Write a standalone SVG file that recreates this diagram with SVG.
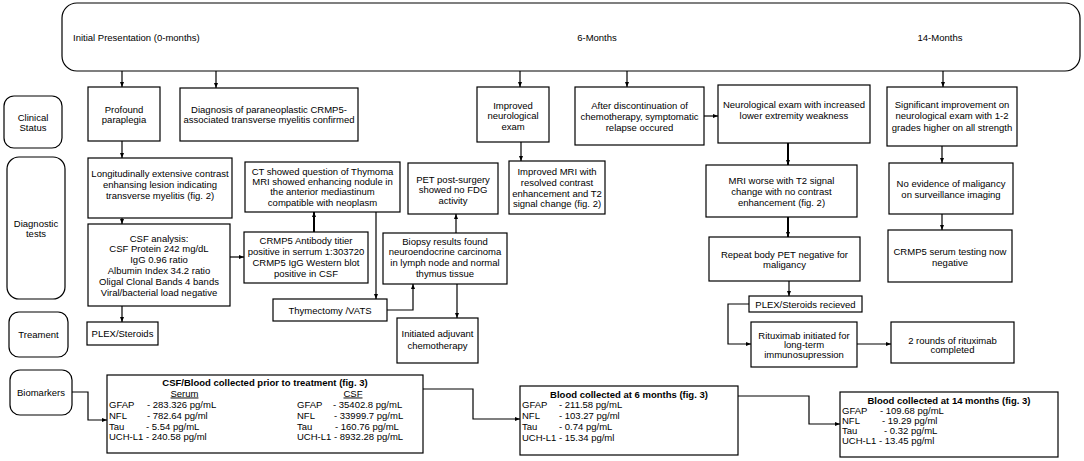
<svg xmlns="http://www.w3.org/2000/svg" width="1084" height="461" viewBox="0 0 1084 461">
<style>
.b{fill:#fff;stroke:#000;stroke-width:1.2}
.t{font-family:"Liberation Sans",Arial,sans-serif;font-size:9.5px;fill:#000;text-anchor:middle}
.l{text-anchor:start}
.h{font-weight:bold}
.u{text-decoration:underline}
.c path{fill:none;stroke:#000;stroke-width:1.2;marker-end:url(#ah)}
.c path.k{stroke-width:2}
</style>
<defs>
<marker id="ah" viewBox="0 0 10 10" refX="10" refY="5" markerWidth="5" markerHeight="5" orient="auto" markerUnits="userSpaceOnUse"><path d="M0,1 L10,5 L0,9 z" fill="#000"/></marker>
</defs>
<rect width="1084" height="461" fill="#fff"/>

<g id="timeline">
<rect class="b" x="62" y="3" width="1018" height="68" rx="15"/>
<text class="t l" x="73" y="40.5">Initial Presentation (0-months)</text>
<text class="t" x="597" y="40.5">6-Months</text>
<text class="t" x="940" y="40.5">14-Months</text>
</g>

<g id="lbl-clinical"><rect class="b" x="4" y="96" width="58" height="52" rx="10"/>
<text class="t" x="33" y="120.5">Clinical</text><text class="t" x="33" y="130.5">Status</text></g>
<g id="lbl-diagnostic"><rect class="b" x="7" y="157" width="58" height="142" rx="12"/>
<text class="t" x="36" y="226.5">Diagnostic</text><text class="t" x="36" y="236.5">tests</text></g>
<g id="lbl-treatment"><rect class="b" x="9" y="312" width="59" height="45" rx="10"/>
<text class="t" x="38.5" y="337.5">Treament</text></g>
<g id="lbl-biomarkers"><rect class="b" x="10" y="370" width="62" height="45" rx="10"/>
<text class="t" x="41" y="395.5">Biomarkers</text></g>

<g id="paraplegia"><rect class="b" x="88" y="87" width="72" height="54"/>
<text class="t" x="124" y="112.5">Profound</text><text class="t" x="124" y="122.5">paraplegia</text></g>
<g id="diagnosis"><rect class="b" x="180" y="88" width="178" height="53"/>
<text class="t" x="269" y="112.5">Diagnosis of paraneoplastic CRMP5-</text><text class="t" x="269" y="122.5">associated transverse myelitis confirmed</text></g>
<g id="improved-exam"><rect class="b" x="477" y="87" width="72" height="55"/>
<text class="t" x="513" y="108.5">Improved</text><text class="t" x="513" y="119">neurological</text><text class="t" x="513" y="129.5">exam</text></g>
<g id="relapse"><rect class="b" x="575" y="87" width="129" height="58"/>
<text class="t" x="639.5" y="108.5">After discontinuation of</text><text class="t" x="639.5" y="119.5">chemotherapy, symptomatic</text><text class="t" x="639.5" y="130.5">relapse occured</text></g>
<g id="weakness"><rect class="b" x="718" y="85" width="152" height="58"/>
<text class="t" x="794" y="107.5">Neurological exam with increased</text><text class="t" x="794" y="118.5">lower extremity weakness</text></g>
<g id="significant"><rect class="b" x="887" y="87" width="130" height="59"/>
<text class="t" x="952" y="107.5">Significant improvement on</text><text class="t" x="952" y="119">neurological exam with 1-2</text><text class="t" x="952" y="130.5">grades higher on all strength</text></g>

<g id="lesion"><rect class="b" x="88" y="158" width="144" height="60"/>
<text class="t" x="160" y="176.5">Longitudinally extensive contrast</text><text class="t" x="160" y="187.5">enhansing lesion indicating</text><text class="t" x="160" y="198.5">transverse myelitis (fig. 2)</text></g>
<g id="csf"><rect class="b" x="88" y="224" width="142" height="82"/>
<text class="t" x="159" y="241.5">CSF analysis:</text><text class="t" x="159" y="252.3">CSF Protein 242 mg/dL</text><text class="t" x="159" y="263.1">IgG 0.96 ratio</text><text class="t" x="159" y="273.9">Albumin Index 34.2 ratio</text><text class="t" x="159" y="284.7">Oligal Clonal Bands 4 bands</text><text class="t" x="159" y="295.5">Viral/bacterial load negative</text></g>
<g id="crmp5-ab"><rect class="b" x="244" y="232" width="124" height="51"/>
<text class="t" x="306" y="243.5">CRMP5 Antibody titier</text><text class="t" x="306" y="254.5">positive in serrum 1:303720</text><text class="t" x="306" y="265.5">CRMP5 IgG Western blot</text><text class="t" x="306" y="276.5">positive in CSF</text></g>
<g id="ct"><rect class="b" x="245" y="162" width="155" height="50"/>
<text class="t" x="322.5" y="174.5">CT showed question of Thymoma</text><text class="t" x="322.5" y="184.8">MRI showed enhancing nodule in</text><text class="t" x="322.5" y="195.2">the anterior mediastinum</text><text class="t" x="322.5" y="205.5">compatible with neoplasm</text></g>
<g id="thymectomy"><rect class="b" x="273" y="299" width="114" height="22"/>
<text class="t" x="330" y="313.5">Thymectomy /VATS</text></g>
<g id="biopsy"><rect class="b" x="383" y="233" width="124" height="51"/>
<text class="t" x="445" y="244.5">Biopsy results found</text><text class="t" x="445" y="255.2">neuroendocrine carcinoma</text><text class="t" x="445" y="265.9">in lymph node and normal</text><text class="t" x="445" y="276.5">thymus tissue</text></g>
<g id="pet"><rect class="b" x="408" y="163" width="90" height="51"/>
<text class="t" x="453" y="182.5">PET post-surgery</text><text class="t" x="453" y="192.8">showed no FDG</text><text class="t" x="453" y="203.5">activity</text></g>
<g id="chemo"><rect class="b" x="397" y="318" width="81" height="45"/>
<text class="t" x="437.5" y="336.5">Initiated adjuvant</text><text class="t" x="437.5" y="348.5">chemotherapy</text></g>
<g id="improved-mri"><rect class="b" x="509" y="161" width="96" height="53"/>
<text class="t" x="557" y="174.5">Improved MRI with</text><text class="t" x="557" y="185.5">resolved contrast</text><text class="t" x="557" y="196.5">enhancement and T2</text><text class="t" x="557" y="206.5">signal change (fig. 2)</text></g>
<g id="mri-worse"><rect class="b" x="706" y="165" width="151" height="52"/>
<text class="t" x="781.5" y="183.5">MRI worse with T2 signal</text><text class="t" x="781.5" y="194.5">change with no contrast</text><text class="t" x="781.5" y="205.5">enhancement (fig. 2)</text></g>
<g id="repeat-pet"><rect class="b" x="709" y="237" width="151" height="44"/>
<text class="t" x="784.5" y="257.5">Repeat body PET negative for</text><text class="t" x="784.5" y="267.5">maligancy</text></g>
<g id="plex-received"><rect class="b" x="749" y="296" width="113" height="16"/>
<text class="t" x="805.5" y="307.5">PLEX/Steroids recieved</text></g>
<g id="rituximab"><rect class="b" x="751" y="322" width="106" height="45"/>
<text class="t" x="804" y="338.5">Rituximab initiated for</text><text class="t" x="804" y="348.2">long-term</text><text class="t" x="804" y="357.9">immunosupression</text></g>
<g id="rounds"><rect class="b" x="891" y="322" width="123" height="41"/>
<text class="t" x="952.5" y="343.5">2 rounds of rituximab</text><text class="t" x="952.5" y="353">completed</text></g>
<g id="no-evidence"><rect class="b" x="889" y="163" width="124" height="51"/>
<text class="t" x="951" y="186.5">No evidence of maligancy</text><text class="t" x="951" y="197.5">on surveillance imaging</text></g>
<g id="crmp5-neg"><rect class="b" x="888" y="230" width="124" height="52"/>
<text class="t" x="950" y="254.5">CRMP5 serum testing now</text><text class="t" x="950" y="265.5">negative</text></g>
<g id="plex"><rect class="b" x="87" y="322" width="71" height="23"/>
<text class="t" x="122.5" y="337">PLEX/Steroids</text></g>

<g id="bio-0">
<rect class="b" x="107" y="375" width="316" height="78"/>
<text class="t h" x="265" y="385.5">CSF/Blood collected prior to treatment (fig. 3)</text>
<text class="t u" x="184.5" y="396.5">Serum</text>
<text class="t u" x="353" y="396.5">CSF</text>
<text class="t l" x="109" y="408.3">GFAP</text><text class="t l" x="147" y="408.3">- 283.326 pg/mL</text>
<text class="t l" x="109" y="418.9">NFL</text><text class="t l" x="147" y="418.9">- 782.64 pg/ml</text>
<text class="t l" x="109" y="429.5">Tau</text><text class="t l" x="146" y="429.5">- 5.54 pg/mL</text>
<text class="t l" x="109" y="440.1">UCH-L1 - 240.58 pg/ml</text>
<text class="t l" x="297" y="408.3">GFAP</text><text class="t l" x="333" y="408.3">-  35402.8 pg/mL</text>
<text class="t l" x="297" y="418.9">NFL</text><text class="t l" x="334" y="418.9">- 33999.7 pg/mL</text>
<text class="t l" x="297" y="429.5">Tau</text><text class="t l" x="335" y="429.5">- 160.76 pg/mL</text>
<text class="t l" x="297" y="440.1">UCH-L1 - 8932.28 pg/mL</text>
</g>
<g id="bio-6">
<rect class="b" x="520" y="386" width="218" height="69"/>
<text class="t h" x="629" y="397.5">Blood collected at 6 months (fig. 3)</text>
<text class="t l" x="522" y="407.5">GFAP</text><text class="t l" x="559" y="407.5">- 211.58 pg/mL</text>
<text class="t l" x="522" y="418.5">NFL</text><text class="t l" x="559" y="418.5">- 103.27 pg/ml</text>
<text class="t l" x="522" y="429.5">Tau</text><text class="t l" x="559" y="429.5">- 0.74 pg/mL</text>
<text class="t l" x="522" y="440.5">UCH-L1 - 15.34 pg/ml</text>
</g>
<g id="bio-14">
<rect class="b" x="840" y="392" width="218" height="65"/>
<text class="t h" x="949" y="403.5">Blood collected at 14 months (fig. 3)</text>
<text class="t l" x="842" y="413.5">GFAP</text><text class="t l" x="880" y="413.5">- 109.68 pg/mL</text>
<text class="t l" x="842" y="423.8">NFL</text><text class="t l" x="882" y="423.8">- 19.29 pg/ml</text>
<text class="t l" x="842" y="434.1">Tau</text><text class="t l" x="884" y="434.1">- 0.32 pg/mL</text>
<text class="t l" x="842" y="444.4">UCH-L1 - 13.45 pg/ml</text>
</g>

<g id="connectors" class="c">
<path d="M122,71 V87"/>
<path d="M216,71 V88"/>
<path d="M520,71 V87"/>
<path d="M627,71 V87"/>
<path d="M943,71 V87"/>
<path d="M704,116 H718"/>
<path d="M122,141 V158"/>
<path d="M122,218 V224"/>
<path d="M122,306 V322"/>
<path d="M230,257 H244"/>
<path class="k" d="M314,232 V212"/>
<path d="M376,212 V299"/>
<path d="M387,310 H413 V284"/>
<path d="M456,233 V214"/>
<path d="M457,284 V318"/>
<path d="M521,142 V161"/>
<path class="k" d="M788,143 V165"/>
<path class="k" d="M788,217 V237"/>
<path d="M789,281 V296"/>
<path d="M749,304 H728 V344 H751"/>
<path d="M857,344 H891"/>
<path d="M942,146 V163"/>
<path d="M942,214 V230"/>
<path d="M72,392 H88 V420 H107"/>
<path d="M423,389 H473 V419 H520"/>
<path d="M738,396 H809 V424 H840"/>
</g>
</svg>
